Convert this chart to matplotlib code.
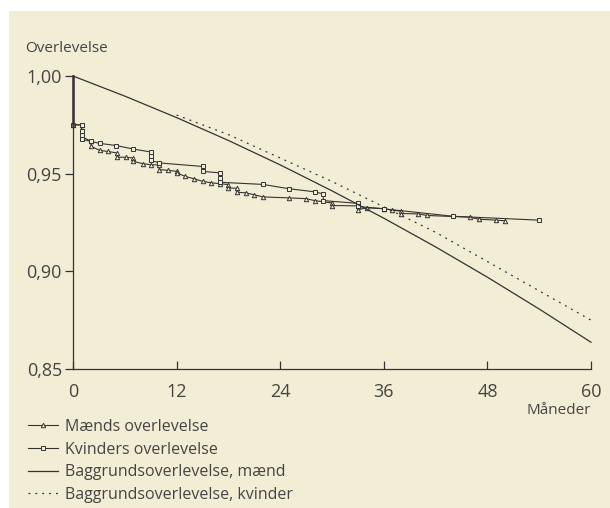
import matplotlib.pyplot as plt
from matplotlib.patches import Rectangle

# Kaplan-Meier kurver
maend_x = [0, 0, 1, 1, 2.1, 2.1, 3.1, 4, 5.1, 5.1, 6.1, 7, 7, 8.1, 9, 10, 10, 11, 12, 12,
           13, 14, 15, 16, 17, 18, 18, 19, 19, 20, 21, 22, 25, 27, 28, 30, 30, 33, 33,
           34.1, 36, 37, 38, 38, 40, 41, 46, 47, 49, 50]
maend_y = [1.000, 0.975, 0.975, 0.969, 0.9665, 0.9640, 0.9619, 0.9614, 0.9606, 0.9584,
           0.9584, 0.9580, 0.9563, 0.9551, 0.9546, 0.9544, 0.9521, 0.9517, 0.9512, 0.9504,
           0.9486, 0.9474, 0.9461, 0.9453, 0.9449, 0.9444, 0.9427, 0.9425, 0.9405, 0.9402,
           0.9392, 0.9381, 0.9376, 0.9372, 0.9362, 0.9350, 0.9337, 0.9335, 0.9316,
           0.9325, 0.9321, 0.9313, 0.9308, 0.9296, 0.9294, 0.9286, 0.9277, 0.9267, 0.9262, 0.9259]

kvinder_x = [0, 0, 1, 1, 1, 1, 2.1, 3.1, 5, 7, 9, 9, 9, 10, 15, 15, 17, 17, 17, 22, 25,
             28, 29, 29, 33, 33, 36, 44, 54]
kvinder_y = [1.000, 0.975, 0.975, 0.972, 0.970, 0.9676, 0.9665, 0.9655, 0.9644, 0.9626,
             0.9611, 0.9590, 0.9568, 0.9555, 0.9537, 0.9512, 0.9504, 0.9480, 0.9456, 0.9445,
             0.9423, 0.9407, 0.9396, 0.9362, 0.9348, 0.9332, 0.9320, 0.9282, 0.9262]

# Baggrundsoverlevelse
bag_m_x = [0, 6, 12, 18, 24, 30, 36, 42, 48, 54, 60]
bag_m_y = [1.000, 0.9897, 0.9787, 0.9670, 0.9545, 0.9412, 0.9272, 0.9125, 0.8970, 0.8807, 0.8637]
bag_k_x = [12, 18, 24, 30, 36, 42, 48, 54, 60]
bag_k_y = [0.980, 0.970, 0.958, 0.946, 0.933, 0.920, 0.905, 0.890, 0.875]

x_ticks = [0, 12, 24, 36, 48, 60]
y_ticks = [0.85, 0.90, 0.95, 1.00]
y_labels = ["0,85", "0,90", "0,95", "1,00"]

creme = "#f2eed6"
mork = "#333333"
tekst = "#444444"
plt.rcParams['font.family'] = ['Open Sans', 'DejaVu Sans']

fig = plt.figure(figsize=(6.1, 5.08), dpi=100, facecolor=creme)
# hvid kant til venstre og foroven
fig.add_artist(Rectangle((0, 0), 9 / 610, 1, transform=fig.transFigure,
                         facecolor="white", edgecolor="none", zorder=-10))
fig.add_artist(Rectangle((0, 1 - 11 / 508), 1, 11 / 508, transform=fig.transFigure,
                         facecolor="white", edgecolor="none", zorder=-10))
ax = fig.add_axes([73 / 610, 1 - 369 / 508, 518 / 610, 293 / 508])
ax.set_facecolor("none")

lm, = ax.plot(maend_x[1:], maend_y[1:], color=mork, lw=0.8, marker="^", ms=3.2,
              mfc=creme, mec=mork, mew=0.7, clip_on=False)
lk, = ax.plot(kvinder_x[1:], kvinder_y[1:], color=mork, lw=0.8, marker="s", ms=3.0,
              mfc=creme, mec=mork, mew=0.7, clip_on=False)
ax.plot(maend_x[:2], maend_y[:2], color=mork, lw=1.8, clip_on=False)
bm, = ax.plot(bag_m_x, bag_m_y, color=mork, lw=0.9, clip_on=False)
bk, = ax.plot(bag_k_x, bag_k_y, color=mork, lw=0.9, dashes=(1.5, 4), clip_on=False)

ax.set_xlim(0, 60)
ax.set_ylim(0.85, 1.00)
ax.set_xticks(x_ticks)
ax.set_yticks(y_ticks)
ax.set_yticklabels(y_labels)
for s in ["top", "right"]:
    ax.spines[s].set_visible(False)
for s in ["left", "bottom"]:
    ax.spines[s].set_color(mork)
    ax.spines[s].set_linewidth(0.9)
ax.tick_params(axis="x", direction="in", length=6, width=0.9, color=mork,
               labelsize=13, labelcolor=tekst, pad=10)
ax.tick_params(axis="y", direction="out", length=6, width=0.9, color=mork,
               labelsize=13, labelcolor=tekst, pad=2)

fig.text(25 / 610, 1 - 48 / 508, "Overlevelse", fontsize=11, color=tekst, va="center")
fig.text(591 / 610, 1 - 410 / 508, "Måneder", fontsize=11, color=tekst, va="center", ha="right")

fig.legend([lm, lk, bm, bk],
           ["Mænds overlevelse", "Kvinders overlevelse",
            "Baggrundsoverlevelse, mænd", "Baggrundsoverlevelse, kvinder"],
           loc="upper left", bbox_to_anchor=(28 / 610, 1 - 419 / 508), frameon=False,
           fontsize=11.5, labelcolor=tekst, handlelength=1.875, handletextpad=0.44,
           labelspacing=0.41, numpoints=1, borderaxespad=0, borderpad=0)

fig.savefig("out.png", dpi=100, facecolor=creme)
